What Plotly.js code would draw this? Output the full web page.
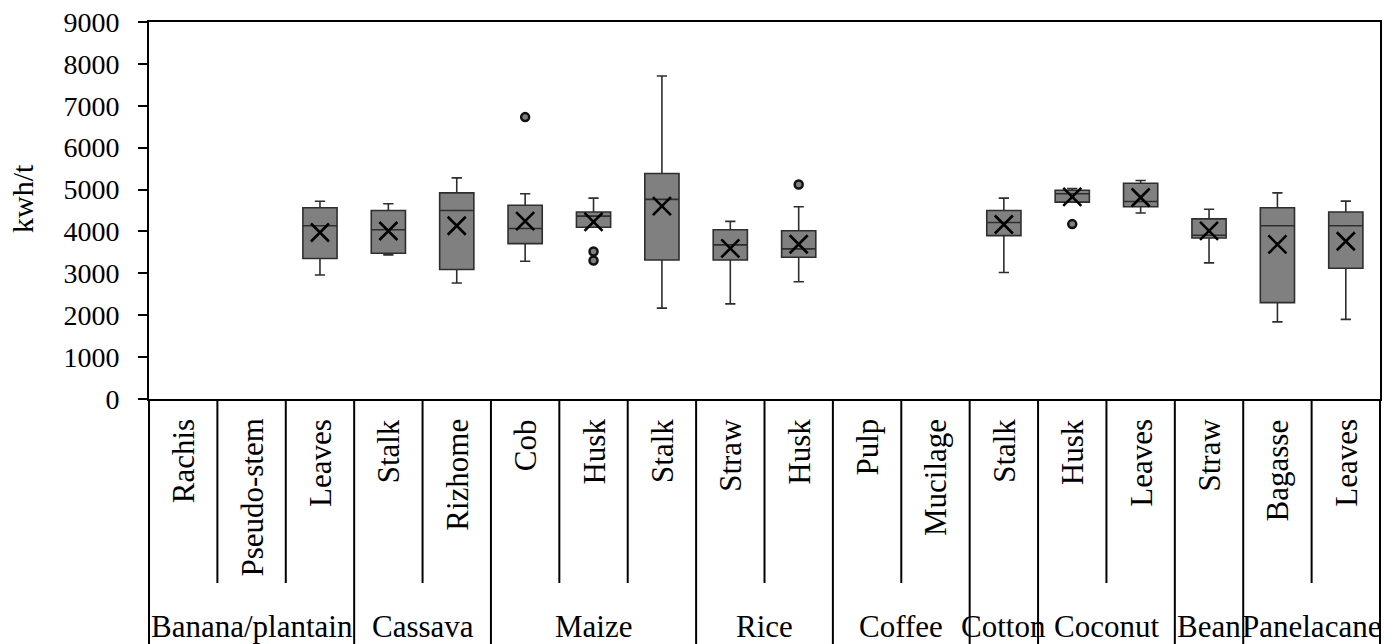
<!DOCTYPE html>
<html>
<head>
<meta charset="utf-8">
<script src="https://cdn.plot.ly/plotly-3.0.1.min.js"></script>
<style>html,body{margin:0;padding:0;background:#fff;}#chart{width:1395px;height:644px;}</style>
</head>
<body>
<div id="chart"></div>
<script>
// ---- Data ----
const groupNames = ['Banana/plantain','Cassava','Maize','Rice','Coffee','Cotton','Coconut','Bean','Panelacane'];
const groupSizes = [3,2,3,2,2,1,2,1,2];
const subLabels = ['Rachis','Pseudo-stem','Leaves','Stalk','Rizhome','Cob','Husk','Stalk','Straw','Husk','Pulp','Mucilage','Stalk','Husk','Leaves','Straw','Bagasse','Leaves'];
const lowerFence = [null,null,2960,3440,2770,3290,4100,2170,2270,2800,null,null,3020,4700,4440,3250,1840,1900];
const q1Values    = [null,null,3355,3480,3090,3710,4100,3320,3320,3385,null,null,3900,4700,4590,3845,2300,3120];
const medianValues= [null,null,4135,4040,4500,4070,4365,4765,3680,3585,null,null,4215,4900,4715,3910,4135,4135];
const q3Values    = [null,null,4565,4500,4920,4625,4465,5385,4040,4015,null,null,4500,4985,5150,4300,4565,4465];
const upperFence  = [null,null,4720,4660,5280,4900,4795,7710,4240,4590,null,null,4795,5025,5215,4530,4920,4725];
const meanValues  = [null,null,3975,4010,4135,4245,4230,4605,3595,3695,null,null,4165,4825,4810,4015,3690,3765];
const outlierCategory = [5,6,6,9,13];
const outlierValues   = [6730,3520,3305,5120,4175];
const yTicks = [0,1000,2000,3000,4000,5000,6000,7000,8000,9000];

// ---- Build ----
const FONT = 'Liberation Serif, Times New Roman, serif';
const idx = subLabels.map((_, i) => i).filter(i => q1Values[i] !== null);
const pick = arr => idx.map(i => arr[i]);

const boxTrace = {
  type: 'box',
  x: idx,
  q1: pick(q1Values),
  median: pick(medianValues),
  q3: pick(q3Values),
  lowerfence: pick(lowerFence),
  upperfence: pick(upperFence),
  width: 0.5,
  whiskerwidth: 0.3,
  fillcolor: '#808080',
  line: {color: '#2e2e2e', width: 1.6},
  boxpoints: false,
  hoverinfo: 'skip',
  showlegend: false
};
const meanTrace = {
  type: 'scatter', mode: 'markers',
  x: idx, y: pick(meanValues),
  marker: {symbol: 'x-thin', size: 18, color: '#000', line: {color: '#000', width: 2.6}},
  hoverinfo: 'skip', showlegend: false
};
const outlierTrace = {
  type: 'scatter', mode: 'markers',
  x: outlierCategory, y: outlierValues,
  marker: {symbol: 'circle', size: 8, color: '#808080', line: {color: '#111', width: 2.5}},
  hoverinfo: 'skip', showlegend: false
};

const plotH = 377; // plot-area height in px, for converting label offsets
const annotations = [];
const shapes = [];
subLabels.forEach((s, i) => {
  annotations.push({
    x: i, xref: 'x', y: -18 / plotH, yref: 'paper',
    text: s, textangle: -90, showarrow: false,
    xanchor: 'center', yanchor: 'top',
    font: {family: FONT, size: 31, color: '#000'}
  });
});
let start = 0;
groupNames.forEach((g, gi) => {
  const n = groupSizes[gi];
  annotations.push({
    x: start + (n - 1) / 2, xref: 'x', y: -227 / plotH, yref: 'paper',
    text: g, showarrow: false, xanchor: 'center', yanchor: 'middle',
    font: {family: FONT, size: 31, color: '#000'}
  });
  for (let k = 1; k < n; k++) {
    shapes.push({type: 'line', xref: 'x', yref: 'paper', x0: start + k - 0.5, x1: start + k - 0.5,
      y0: 0, y1: -184 / plotH, line: {color: '#000', width: 2}});
  }
  start += n;
  if (gi < groupNames.length - 1) {
    shapes.push({type: 'line', xref: 'x', yref: 'paper', x0: start - 0.5, x1: start - 0.5,
      y0: 0, y1: -260 / plotH, line: {color: '#000', width: 2}});
  }
});
shapes.push({type: 'line', xref: 'paper', yref: 'paper', x0: 0, x1: 0, y0: 0, y1: -260 / plotH, line: {color: '#000', width: 2}});
shapes.push({type: 'line', xref: 'paper', yref: 'paper', x0: 1, x1: 1, y0: 0, y1: -260 / plotH, line: {color: '#000', width: 2}});

annotations.push({
  x: -126.5 / 1231, xref: 'paper', y: 200.5 / plotH, yref: 'paper',
  text: 'kwh/t', textangle: -90, showarrow: false, xanchor: 'center', yanchor: 'middle',
  font: {family: FONT, size: 30, color: '#000'}
});

const layout = {
  width: 1395, height: 644,
  margin: {l: 149, r: 15, t: 22, b: 245, pad: 0},
  paper_bgcolor: '#fff', plot_bgcolor: '#fff',
  font: {family: FONT, size: 28, color: '#000'},
  showlegend: false,
  xaxis: {
    range: [-0.5, subLabels.length - 0.5], showticklabels: false, ticks: '',
    showgrid: false, zeroline: false, showline: true, mirror: true,
    linecolor: '#000', linewidth: 2, fixedrange: true
  },
  yaxis: {
    range: [0, 9000], tickvals: yTicks, ticktext: yTicks.map(String),
    ticks: 'outside', ticklen: 9, tickwidth: 2, tickcolor: '#000',
    ticklabelstandoff: 13,
    showgrid: false, zeroline: false, showline: true, mirror: true,
    linecolor: '#000', linewidth: 2, fixedrange: true,
    tickfont: {family: FONT, size: 28, color: '#000'}
  },
  annotations: annotations,
  shapes: shapes
};

Plotly.newPlot('chart', [boxTrace, outlierTrace, meanTrace], layout, {displayModeBar: false, staticPlot: true});
</script>
</body>
</html>
